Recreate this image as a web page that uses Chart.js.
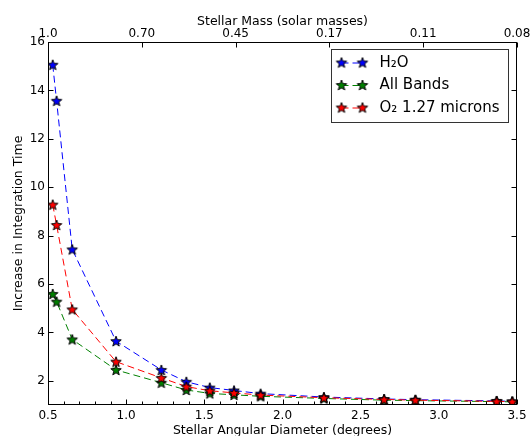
<!DOCTYPE html>
<html>
<head>
<meta charset="utf-8">
<script src="https://cdn.jsdelivr.net/npm/chart.js@4.4.0/dist/chart.umd.min.js"></script>
<style>
    body { margin: 0; background: #fff; }
</style>
</head>
<body>
<canvas id="chart" width="532" height="436"></canvas>
<script>
// stellar angular diameter (degrees) for each model star
var diameters = [0.53, 0.555, 0.655, 0.935, 1.225, 1.385, 1.535, 1.69, 1.86, 2.265, 2.65, 2.85, 3.37, 3.47];
// increase in integration time
var h2o = [15.06, 13.57, 7.43, 3.64, 2.45, 1.96, 1.72, 1.6, 1.47, 1.33, 1.25, 1.22, 1.17, 1.15];
var allBands = [5.59, 5.27, 3.71, 2.45, 1.92, 1.62, 1.48, 1.42, 1.36, 1.27, 1.2, 1.18, 1.14, 1.13];
var o2 = [9.28, 8.44, 4.95, 2.79, 2.12, 1.76, 1.59, 1.5, 1.41, 1.3, 1.23, 1.2, 1.15, 1.14];

var xTicks = [0.5, 1.0, 1.5, 2.0, 2.5, 3.0, 3.5];
var yTicks = [2, 4, 6, 8, 10, 12, 14, 16];
var massLabels = ["1.0", "0.70", "0.45", "0.17", "0.11", "0.08"];

Chart.defaults.font.family = "'DejaVu Sans', sans-serif";
Chart.defaults.font.size = 12;
Chart.defaults.color = "#000";

function makeStar(color) {
    var c = document.createElement("canvas");
    c.width = 14;
    c.height = 14;
    var ctx = c.getContext("2d");
    var R = 5.5, r = R * 0.42;
    ctx.beginPath();
    for (var i = 0; i < 10; i++) {
        var rad = i % 2 ? r : R;
        var a = -Math.PI / 2 + i * Math.PI / 5;
        var px = 7 + rad * Math.cos(a), py = 7.5 + rad * Math.sin(a);
        if (i === 0) ctx.moveTo(px, py); else ctx.lineTo(px, py);
    }
    ctx.closePath();
    ctx.fillStyle = color;
    ctx.fill();
    ctx.strokeStyle = "#000";
    ctx.lineWidth = 1;
    ctx.stroke();
    return c;
}

function toPoints(ys) {
    return ys.map(function (v, i) { return { x: diameters[i], y: v }; });
}

function series(label, ys, color, order) {
    var star = makeStar(color);
    return {
        label: label,
        data: toPoints(ys),
        borderColor: color,
        backgroundColor: color,
        borderWidth: 1,
        borderDash: [7, 4],
        pointStyle: star,
        pointRadius: 6,
        tension: 0,
        order: order,
    };
}

// ticks point inwards, frame all round, like the matplotlib original
var framePlugin = {
    id: "frame",
    afterDraw: function (chart) {
        var ctx = chart.ctx, a = chart.chartArea;
        var sx = chart.scales.x, sx2 = chart.scales.x2, sy = chart.scales.y;
        var L = Math.round(a.left) + 0.5, R = Math.round(a.right) - 0.5;
        var T = Math.round(a.top) + 0.5, B = Math.round(a.bottom) - 0.5;
        ctx.save();
        ctx.strokeStyle = "#000";
        ctx.lineWidth = 1;
        ctx.setLineDash([]);
        ctx.beginPath();
        for (var k = 5; k <= 35; k++) {
            var px = Math.round(sx.getPixelForValue(k / 10)) + 0.5;
            var len = k % 5 === 0 ? 5 : 3;
            ctx.moveTo(px, B);
            ctx.lineTo(px, B - len);
        }
        sx2.ticks.forEach(function (t) {
            var px = Math.round(sx2.getPixelForValue(t.value)) + 0.5;
            ctx.moveTo(px, T);
            ctx.lineTo(px, T + 5);
        });
        yTicks.forEach(function (v) {
            var py = Math.round(sy.getPixelForValue(v)) + 0.5;
            ctx.moveTo(L, py);
            ctx.lineTo(L + 5, py);
            ctx.moveTo(R, py);
            ctx.lineTo(R - 5, py);
        });
        ctx.stroke();
        ctx.strokeRect(L, T, R - L, B - T);

        // legend box
        var bx = Math.round(a.right) - 185.5, by = Math.round(a.top) + 7.5;
        ctx.strokeStyle = "#333";
        ctx.strokeRect(bx, by, 177, 73);
        ctx.font = "15px 'DejaVu Sans', sans-serif";
        ctx.textBaseline = "middle";
        ctx.fillStyle = "#000";
        chart.data.datasets.forEach(function (ds, i) {
            var yy = by + 13.5 + i * 22.5;
            ctx.strokeStyle = ds.borderColor;
            ctx.setLineDash([7, 4]);
            ctx.beginPath();
            ctx.moveTo(bx + 10, yy);
            ctx.lineTo(bx + 31, yy);
            ctx.stroke();
            ctx.setLineDash([]);
            ctx.drawImage(ds.pointStyle, bx + 10 - 7, yy - 7.5);
            ctx.drawImage(ds.pointStyle, bx + 31 - 7, yy - 7.5);
            ctx.fillText(ds.label, bx + 48, yy);
        });
        ctx.restore();
    },
};

new Chart(document.getElementById("chart"), {
    type: "line",
    data: {
        datasets: [
            series("H\u2082O", h2o, "#0000ff", 2),
            series("All Bands", allBands, "#008000", 1),
            series("O\u2082 1.27 microns", o2, "#ff0000", 0),
        ],
    },
    options: {
        responsive: false,
        animation: false,
        devicePixelRatio: 1,
        layout: { padding: { left: 0, right: 15, top: 0, bottom: 0 } },
        plugins: {
            legend: { display: false },
            tooltip: { enabled: false },
        },
        scales: {
            x: {
                type: "linear",
                position: "bottom",
                min: 0.5,
                max: 3.5,
                grid: { display: false, tickLength: 0 },
                border: { display: false },
                afterBuildTicks: function (s) {
                    s.ticks = xTicks.map(function (v) { return { value: v }; });
                },
                afterFit: function (s) { s.height = 31; },
                ticks: {
                    padding: 4,
                    maxRotation: 0,
                    callback: function (v) { return v.toFixed(1); },
                },
                title: {
                    display: true,
                    text: "Stellar Angular Diameter (degrees)",
                    font: { size: 12.5 },
                    padding: { top: 0, bottom: -2 },
                },
            },
            x2: {
                type: "linear",
                position: "top",
                min: 0,
                max: 5,
                grid: { display: false, tickLength: 0 },
                border: { display: false },
                afterBuildTicks: function (s) {
                    s.ticks = massLabels.map(function (m, i) { return { value: i }; });
                },
                afterFit: function (s) { s.height = 42; },
                ticks: {
                    padding: 1,
                    maxRotation: 0,
                    callback: function (v, i) { return massLabels[i]; },
                },
                title: {
                    display: true,
                    text: "Stellar Mass (solar masses)",
                    font: { size: 12.5 },
                    padding: { top: 14, bottom: 0 },
                },
            },
            y: {
                type: "linear",
                min: 1,
                max: 16,
                grid: { display: false, tickLength: 0 },
                border: { display: false },
                afterBuildTicks: function (s) {
                    s.ticks = yTicks.map(function (v) { return { value: v }; });
                },
                afterFit: function (s) { s.width = 48; },
                ticks: { padding: 3 },
                title: {
                    display: true,
                    text: "Increase in Integration Time",
                    font: { size: 12.5 },
                    padding: { top: 11, bottom: 0 },
                },
            },
        },
    },
    plugins: [framePlugin],
});
</script>
</body>
</html>
